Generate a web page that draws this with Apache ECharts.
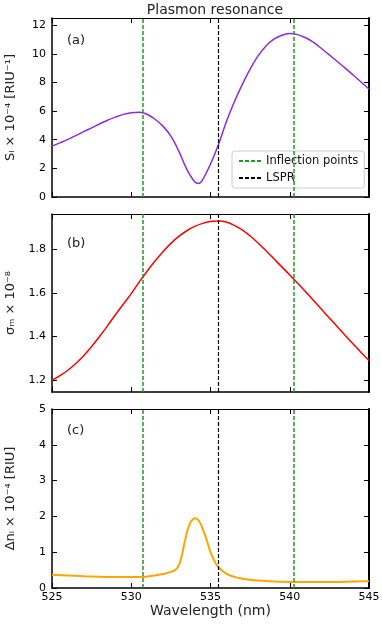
<!DOCTYPE html>
<html lang="en">
<head>
<meta charset="UTF-8">
<title>Plasmon resonance</title>
<style>
  body { margin: 0; padding: 0; background: #fff; }
  .main { width: 382px; height: 624px; }
</style>
</head>
<body>
<div class="main"></div>
<script src="https://cdn.jsdelivr.net/npm/echarts@6/dist/echarts.min.js"></script>
<script>
// (a) sensitivity S_l x 1e-4
var wlA = [525, 525.5, 526, 526.5, 527, 527.5, 528, 528.5, 529, 529.5, 530, 530.5, 531, 531.5, 532, 532.5, 533, 533.5, 534, 534.25, 534.5, 535, 535.5, 536, 536.5, 537, 537.5, 538, 538.5, 539, 539.5, 540, 540.5, 541, 541.5, 542, 542.5, 543, 543.5, 544, 544.5, 545];
var sens = [3.55, 3.78, 4.02, 4.29, 4.56, 4.83, 5.1, 5.36, 5.58, 5.77, 5.89, 5.92, 5.78, 5.43, 4.95, 4.25, 3.2, 1.95, 1.07, 0.95, 1.2, 2.3, 3.65, 5.25, 6.63, 7.85, 8.93, 9.85, 10.55, 11.02, 11.3, 11.42, 11.34, 11.12, 10.8, 10.37, 9.92, 9.46, 9.0, 8.52, 8.03, 7.54];

// (b) sigma_m x 1e-8
var wlB = [525, 525.5, 526, 526.5, 527, 527.5, 528, 528.5, 529, 529.5, 530, 530.5, 531, 531.5, 532, 532.5, 533, 533.5, 534, 534.5, 535, 535.5, 536, 536.5, 537, 537.5, 538, 538.5, 539, 539.5, 540, 540.5, 541, 541.5, 542, 542.5, 543, 543.5, 544, 544.5, 545];
var sigma = [1.198, 1.22, 1.245, 1.276, 1.312, 1.354, 1.4, 1.449, 1.5, 1.549, 1.597, 1.65, 1.7, 1.747, 1.79, 1.828, 1.86, 1.886, 1.906, 1.92, 1.928, 1.931, 1.926, 1.911, 1.89, 1.862, 1.83, 1.794, 1.757, 1.72, 1.683, 1.645, 1.606, 1.566, 1.525, 1.485, 1.445, 1.405, 1.366, 1.327, 1.29];

// (c) delta n_l x 1e-4
var wlC = [525, 526, 527, 528, 529, 530, 530.75, 531.2, 532, 532.5, 532.87, 533.1, 533.4, 533.7, 534.05, 534.3, 534.5, 534.76, 535, 535.2, 535.5, 536, 536.5, 537, 537.5, 538, 539, 540, 541, 542, 543, 544, 545];
var deltaN = [0.37, 0.35, 0.33, 0.315, 0.305, 0.305, 0.31, 0.335, 0.39, 0.45, 0.54, 0.75, 1.34, 1.8, 1.95, 1.85, 1.66, 1.34, 1.0, 0.8, 0.58, 0.4, 0.31, 0.26, 0.23, 0.21, 0.185, 0.17, 0.165, 0.165, 0.17, 0.18, 0.19];

var inflection = [530.75, 540.25];
var lspr = [535.5];

var yTicksA = [0, 2, 4, 6, 8, 10, 12];
var yTicksB = [1.2, 1.4, 1.6, 1.8];

var font = 'DejaVu Sans';
var green = '#1f9a1f';

function zip(xs, ys) {
  return xs.map(function (x, i) { return [x, ys[i]]; });
}

var myChart = echarts.init(document.querySelector('.main'));

var grids = [
  { left: 52, right: 13, top: 18, height: 179, outerBoundsMode: 'none', containLabel: false },
  { left: 52, right: 13, top: 214, height: 178, outerBoundsMode: 'none', containLabel: false },
  { left: 52, right: 13, top: 409, height: 179, outerBoundsMode: 'none', containLabel: false }
];

var xAxes = [];
var yAxes = [];
var yRanges = [
  { min: 0, max: 12.5, ticks: yTicksA },
  { min: 1.145, max: 1.963, ticks: yTicksB },
  { min: 0, max: 5, interval: 1 }
];
var yNames = ['Sₗ × 10⁻⁴ [RIU⁻¹]', 'σₘ × 10⁻⁸', 'Δnₗ × 10⁻⁴ [RIU]'];

for (var i = 0; i < 3; i++) {
  // bottom + top x axes
  xAxes.push({
    type: 'value', gridIndex: i, position: 'bottom',
    min: 525, max: 545, interval: 5,
    axisLine: { show: true, onZero: false, lineStyle: { color: '#000', width: 1.5 } },
    axisTick: { show: true, inside: true, length: 5, lineStyle: { color: '#000' } },
    axisLabel: { show: i === 2, color: '#000', fontSize: 11, fontFamily: font, margin: 4 },
    splitLine: { show: false },
    name: i === 2 ? 'Wavelength (nm)' : '',
    nameLocation: 'middle', nameGap: 16,
    nameTextStyle: { fontSize: 14, color: '#222', fontFamily: font }
  });
  xAxes.push({
    type: 'value', gridIndex: i, position: 'top',
    min: 525, max: 545, interval: 5,
    axisLine: { show: true, onZero: false, lineStyle: { color: '#000', width: 1 } },
    axisTick: { show: true, inside: true, length: 5, lineStyle: { color: '#000' } },
    axisLabel: { show: false },
    splitLine: { show: false }
  });

  var r = yRanges[i];
  var left = {
    type: 'value', gridIndex: i, position: 'left',
    min: r.min, max: r.max,
    axisLine: { show: true, onZero: false, lineStyle: { color: '#000', width: 1.5 } },
    axisTick: { show: true, inside: true, length: 5, lineStyle: { color: '#000' } },
    axisLabel: { color: '#000', fontSize: 11, fontFamily: font, margin: 6 },
    splitLine: { show: false },
    name: yNames[i], nameLocation: 'middle', nameRotate: 90, nameGap: 35,
    nameTextStyle: { fontSize: 13, color: '#222', fontFamily: font }
  };
  var right = {
    type: 'value', gridIndex: i, position: 'right',
    min: r.min, max: r.max,
    axisLine: { show: true, onZero: false, lineStyle: { color: '#000', width: 2 } },
    axisTick: { show: true, inside: true, length: 5, lineStyle: { color: '#000' } },
    axisLabel: { show: false },
    splitLine: { show: false }
  };
  if (r.ticks) {
    left.axisLabel.customValues = r.ticks;
    left.axisTick.customValues = r.ticks;
    right.axisTick.customValues = r.ticks;
  } else {
    left.interval = r.interval;
    right.interval = r.interval;
  }
  yAxes.push(left, right);
}

var series = [
  {
    type: 'line', xAxisIndex: 0, yAxisIndex: 0, data: zip(wlA, sens),
    symbol: 'none', smooth: 0.35,
    lineStyle: { color: '#8a2be2', width: 1.5 }, z: 3
  },
  {
    type: 'line', xAxisIndex: 2, yAxisIndex: 2, data: zip(wlB, sigma),
    symbol: 'none', smooth: 0.35,
    lineStyle: { color: '#ff0000', width: 1.5 }, z: 3
  },
  {
    type: 'line', xAxisIndex: 4, yAxisIndex: 4, data: zip(wlC, deltaN),
    symbol: 'none', smooth: true,
    lineStyle: { color: '#ffa500', width: 2 }, z: 3
  }
];

// dashed vertical markers, one set per panel
for (var k = 0; k < 3; k++) {
  series.push({
    name: 'Inflection points', type: 'line', xAxisIndex: 2 * k, yAxisIndex: 2 * k,
    data: [], symbol: 'none',
    itemStyle: { color: green },
    lineStyle: { color: green, type: [4, 2], width: 1.5 },
    markLine: {
      symbol: 'none', silent: true, label: { show: false },
      lineStyle: { color: green, type: [4, 2], width: 1.5 },
      data: inflection.map(function (v) { return { xAxis: v }; })
    }
  });
  series.push({
    name: 'LSPR', type: 'line', xAxisIndex: 2 * k, yAxisIndex: 2 * k,
    data: [], symbol: 'none',
    itemStyle: { color: '#000' },
    lineStyle: { color: '#000', type: [4, 2], width: 1.2 },
    markLine: {
      symbol: 'none', silent: true, label: { show: false },
      lineStyle: { color: '#000', type: [4, 2], width: 1.2 },
      data: lspr.map(function (v) { return { xAxis: v }; })
    }
  });
}

var option = {
  animation: false,
  title: {
    text: 'Plasmon resonance', left: 210, top: -2, textAlign: 'center',
    textStyle: { fontSize: 14, fontWeight: 'normal', color: '#222', fontFamily: font }
  },
  legend: {
    data: ['Inflection points', 'LSPR'],
    orient: 'vertical', left: 232, top: 151,
    itemWidth: 22, itemHeight: 10, itemGap: 5,
    padding: [4, 6, 4, 6],
    itemStyle: { opacity: 0 },
    backgroundColor: 'rgba(255,255,255,0.8)',
    borderColor: '#ccc', borderWidth: 1, borderRadius: 3,
    textStyle: { fontSize: 11.5, color: '#111', fontFamily: font }
  },
  graphic: [
    { type: 'text', left: 67, top: 34, style: { text: '(a)', fontSize: 13, fontFamily: font, fill: '#222' } },
    { type: 'text', left: 67, top: 237, style: { text: '(b)', fontSize: 13, fontFamily: font, fill: '#222' } },
    { type: 'text', left: 67, top: 424, style: { text: '(c)', fontSize: 13, fontFamily: font, fill: '#222' } }
  ],
  grid: grids,
  xAxis: xAxes,
  yAxis: yAxes,
  series: series
};

myChart.setOption(option);
</script>
</body>
</html>
